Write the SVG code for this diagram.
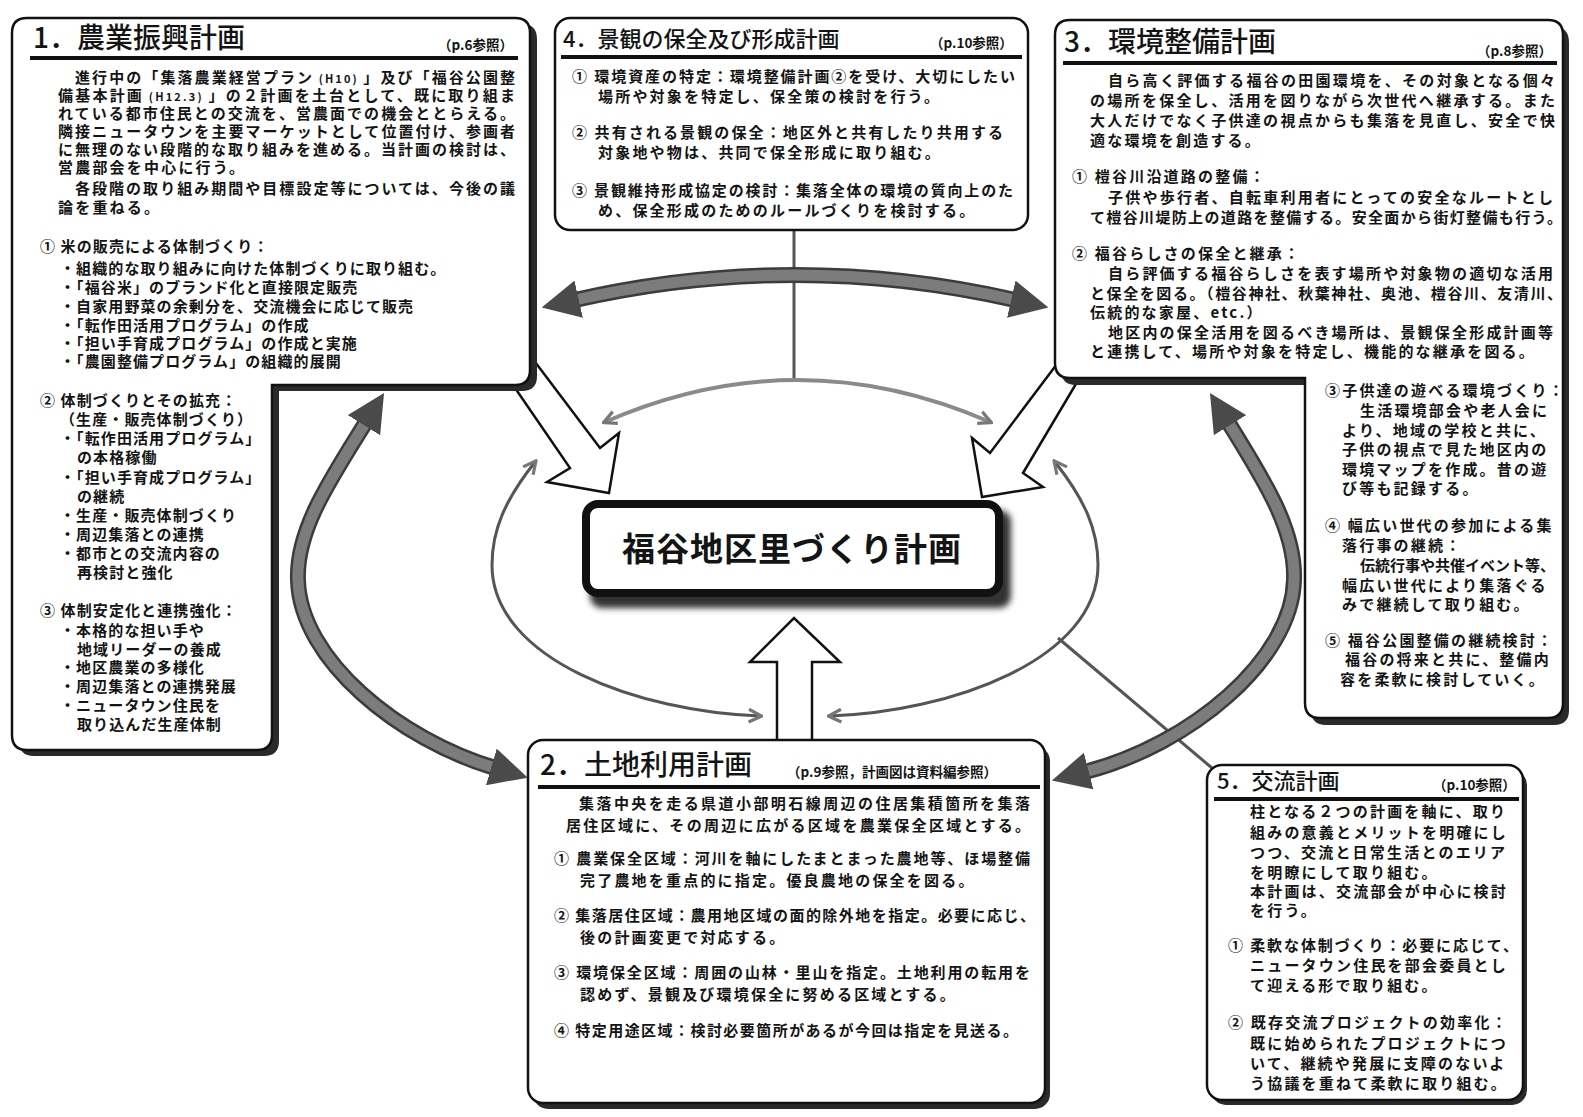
<svg xmlns="http://www.w3.org/2000/svg" width="1583" height="1117" viewBox="0 0 1583 1117">
<defs>
<style>
text { font-family: "Noto Sans CJK JP", "Noto Sans CJK SC", sans-serif; fill: #141414; }
.b { font-size: 15px; font-weight: 700; letter-spacing: 2.2px; }
.bl { font-size: 15px; font-weight: 700; letter-spacing: 1.1px; }
.j { font-size: 15px; font-weight: 700; }
.h { font-size: 28px; font-weight: 500; }
.hs { font-size: 22px; font-weight: 500; }
.ref { font-size: 13.5px; font-weight: 700; }
.sm { font-size: 11px; letter-spacing: 0; }
.c { font-size: 33px; font-weight: 700; letter-spacing: 1px; text-anchor: middle; }
.box { fill: #fff; stroke: #111; stroke-width: 2.5; }
.shadow { fill: #2a2a2a; }
.ul { stroke: #111; stroke-width: 4; }
.hollow { fill: #fff; stroke: #111; stroke-width: 2.5; stroke-linejoin: miter; }
.bigUnder { fill: none; stroke: #3c3c3c; stroke-width: 16; }
.bigOver { fill: none; stroke: #7c7c7c; stroke-width: 11; }
.thin { fill: none; stroke: #8a8a8a; stroke-width: 4; }
.thinDark { fill: none; stroke: #555; stroke-width: 3; }
</style>
<marker id="bigHead" viewBox="0 0 10 10" refX="1" refY="5" markerWidth="38" markerHeight="38" markerUnits="userSpaceOnUse" orient="auto-start-reverse">
<path d="M0,0 L10,5 L0,10 z" fill="#4a4a4a"/>
</marker>
<marker id="thinHead" viewBox="0 0 10 10" refX="8" refY="5" markerWidth="16" markerHeight="16" markerUnits="userSpaceOnUse" orient="auto-start-reverse">
<path d="M1,1 L9,5 L1,9" fill="none" stroke="#777" stroke-width="2"/>
</marker>
<filter id="blur" x="-10%" y="-10%" width="120%" height="130%"><feGaussianBlur stdDeviation="3"/></filter>
</defs>
<rect width="1583" height="1117" fill="#fff"/>

<g id="connectors">
<path class="thinDark" d="M794,230 V378" stroke="#888"/>
<path class="thin" d="M605,422 Q797,338 990,422" marker-start="url(#thinHead)" marker-end="url(#thinHead)"/>
<path class="thinDark" d="M535,462 C505,500 492,530 492,565 C492,660 640,712 760,716" marker-start="url(#thinHead)" marker-end="url(#thinHead)"/>
<path class="thinDark" d="M1055,462 C1085,500 1098,530 1098,565 C1098,660 950,712 830,716" marker-start="url(#thinHead)" marker-end="url(#thinHead)"/>
<path class="thinDark" d="M1058,638 L1212,768"/>
<path class="bigUnder" d="M575,300 Q795,250 1015,300"/>
<path class="bigOver" d="M575,300 Q795,250 1015,300" marker-start="url(#bigHead)" marker-end="url(#bigHead)"/>
<path class="bigUnder" d="M366,422 C330,480 296,530 298,580 C300,660 400,740 495,768"/>
<path class="bigOver" d="M366,422 C330,480 296,530 298,580 C300,660 400,740 495,768" marker-start="url(#bigHead)" marker-end="url(#bigHead)"/>
<path class="bigUnder" d="M1228,422 C1264,480 1296,530 1294,580 C1292,660 1190,745 1085,772"/>
<path class="bigOver" d="M1228,422 C1264,480 1296,530 1294,580 C1292,660 1190,745 1085,772" marker-start="url(#bigHead)" marker-end="url(#bigHead)"/>
<polygon class="hollow" points="520,342 600,448 619,433 609,493 547,482 570,468 502,369"/>
<polygon class="hollow" points="1078,336 990,453 972,438 982,497 1043,487 1023,473 1092,357"/>
<polygon class="hollow" points="777,746 777,662 750,662 794,618 840,662 812,662 812,746"/>
</g>

<g id="node-center">
<rect x="590" y="510" width="421" height="98" rx="12" fill="#333" filter="url(#blur)"/>
<rect x="586" y="504" width="413" height="89" rx="12" fill="#fff" stroke="#111" stroke-width="8"/>
<text class="c" x="792" y="561">福谷地区里づくり計画</text>
</g>

<g id="node-1">
<path class="shadow" transform="translate(7,6)" d="M27,18 H515 Q530,18 530,33 V370 Q530,385 515,385 H272 V735 Q272,750 257,750 H27 Q12,750 12,735 V33 Q12,18 27,18 Z"/>
<path class="box" d="M27,18 H515 Q530,18 530,33 V370 Q530,385 515,385 H272 V735 Q272,750 257,750 H27 Q12,750 12,735 V33 Q12,18 27,18 Z"/>
<text class="h" x="33" y="48">1．農業振興計画</text>
<text class="ref" x="438" y="50">（p.6参照）</text>
<line class="ul" x1="30" y1="58" x2="518" y2="58"/>
<text class="j" x="75" y="83" textLength="440" lengthAdjust="spacing">進行中の「集落農業経営プラン<tspan class="sm"> (H10) </tspan>」及び「福谷公園整</text>
<text class="j" x="58" y="101" textLength="457" lengthAdjust="spacing">備基本計画<tspan class="sm"> (H12.3) </tspan>」の２計画を土台として、既に取り組ま</text>
<text class="j" x="58" y="119" textLength="457" lengthAdjust="spacing">れている都市住民との交流を、営農面での機会ととらえる。</text>
<text class="j" x="58" y="137" textLength="457" lengthAdjust="spacing">隣接ニュータウンを主要マーケットとして位置付け、参画者</text>
<text class="j" x="58" y="155" textLength="457" lengthAdjust="spacing">に無理のない段階的な取り組みを進める。当計画の検討は、</text>
<text class="b" x="58" y="173">営農部会を中心に行う。</text>
<text class="j" x="75" y="194" textLength="440" lengthAdjust="spacing">各段階の取り組み期間や目標設定等については、今後の議</text>
<text class="b" x="58" y="213">論を重ねる。</text>

<text class="bl" x="40" y="252">① 米の販売による体制づくり：</text>
<text class="bl" x="60" y="274">・組織的な取り組みに向けた体制づくりに取り組む。</text>
<text class="bl" x="60" y="293">・「福谷米」のブランド化と直接限定販売</text>
<text class="bl" x="60" y="312">・自家用野菜の余剰分を、交流機会に応じて販売</text>
<text class="bl" x="60" y="331">・「転作田活用プログラム」の作成</text>
<text class="bl" x="60" y="349">・「担い手育成プログラム」の作成と実施</text>
<text class="bl" x="60" y="367">・「農園整備プログラム」の組織的展開</text>

<text class="bl" x="40" y="406">② 体制づくりとその拡充：</text>
<text class="bl" x="60" y="425">（生産・販売体制づくり）</text>
<text class="bl" x="60" y="444">・「転作田活用プログラム」</text>
<text class="bl" x="77" y="463">の本格稼働</text>
<text class="bl" x="60" y="483">・「担い手育成プログラム」</text>
<text class="bl" x="77" y="502">の継続</text>
<text class="bl" x="60" y="521">・生産・販売体制づくり</text>
<text class="bl" x="60" y="540">・周辺集落との連携</text>
<text class="bl" x="60" y="559">・都市との交流内容の</text>
<text class="bl" x="77" y="578">再検討と強化</text>

<text class="bl" x="40" y="616">③ 体制安定化と連携強化：</text>
<text class="bl" x="60" y="636">・本格的な担い手や</text>
<text class="bl" x="77" y="655">地域リーダーの養成</text>
<text class="bl" x="60" y="673">・地区農業の多様化</text>
<text class="bl" x="60" y="692">・周辺集落との連携発展</text>
<text class="bl" x="60" y="711">・ニュータウン住民を</text>
<text class="bl" x="77" y="730">取り込んだ生産体制</text>
</g>

<g id="node-4">
<rect class="box" x="555" y="18" width="473" height="212" rx="15"/>
<text class="hs" x="563" y="47">4．景観の保全及び形成計画</text>
<text class="ref" x="930" y="48">（p.10参照）</text>
<line class="ul" x1="561" y1="57" x2="1022" y2="57"/>
<text class="j" x="572" y="82" textLength="443" lengthAdjust="spacing">① 環境資産の特定：環境整備計画②を受け、大切にしたい</text>
<text class="b" x="598" y="102">場所や対象を特定し、保全策の検討を行う。</text>
<text class="j" x="572" y="138" textLength="431" lengthAdjust="spacing">② 共有される景観の保全：地区外と共有したり共用する</text>
<text class="b" x="598" y="158">対象地や物は、共同で保全形成に取り組む。</text>
<text class="j" x="572" y="196" textLength="441" lengthAdjust="spacing">③ 景観維持形成協定の検討：集落全体の環境の質向上のた</text>
<text class="b" x="598" y="216">め、保全形成のためのルールづくりを検討する。</text>
</g>

<g id="node-3">
<path class="shadow" transform="translate(6,7)" d="M1070,20 H1548 Q1563,20 1563,35 V703 Q1563,718 1548,718 H1320 Q1305,718 1305,703 V378 H1070 Q1055,378 1055,363 V35 Q1055,20 1070,20 Z"/>
<path class="box" d="M1070,20 H1548 Q1563,20 1563,35 V703 Q1563,718 1548,718 H1320 Q1305,718 1305,703 V378 H1070 Q1055,378 1055,363 V35 Q1055,20 1070,20 Z"/>
<text class="h" x="1064" y="52">3．環境整備計画</text>
<text class="ref" x="1477" y="56">（p.8参照）</text>
<line class="ul" x1="1063" y1="63" x2="1557" y2="63"/>
<text class="j" x="1108" y="86" textLength="447" lengthAdjust="spacing">自ら高く評価する福谷の田園環境を、その対象となる個々</text>
<text class="j" x="1090" y="106" textLength="465" lengthAdjust="spacing">の場所を保全し、活用を図りながら次世代へ継承する。また</text>
<text class="j" x="1090" y="126" textLength="465" lengthAdjust="spacing">大人だけでなく子供達の視点からも集落を見直し、安全で快</text>
<text class="b" x="1090" y="146">適な環境を創造する。</text>
<text class="b" x="1072" y="182">① 榿谷川沿道路の整備：</text>
<text class="j" x="1108" y="203" textLength="445" lengthAdjust="spacing">子供や歩行者、自転車利用者にとっての安全なルートとし</text>
<text class="j" x="1090" y="223" textLength="472" lengthAdjust="spacing">て榿谷川堤防上の道路を整備する。安全面から街灯整備も行う。</text>
<text class="b" x="1072" y="259">② 福谷らしさの保全と継承：</text>
<text class="j" x="1108" y="279" textLength="445" lengthAdjust="spacing">自ら評価する福谷らしさを表す場所や対象物の適切な活用</text>
<text class="j" x="1090" y="299" textLength="472" lengthAdjust="spacing">と保全を図る。（榿谷神社、秋葉神社、奥池、榿谷川、友清川、</text>
<text class="b" x="1090" y="318">伝統的な家屋、etc.）</text>
<text class="j" x="1108" y="338" textLength="445" lengthAdjust="spacing">地区内の保全活用を図るべき場所は、景観保全形成計画等</text>
<text class="b" x="1090" y="357">と連携して、場所や対象を特定し、機能的な継承を図る。</text>

<text class="b" x="1325" y="396">③子供達の遊べる環境づくり：</text>
<text class="b" x="1360" y="416">生活環境部会や老人会に</text>
<text class="b" x="1342" y="436">より、地域の学校と共に、</text>
<text class="b" x="1342" y="455">子供の視点で見た地区内の</text>
<text class="b" x="1342" y="475">環境マップを作成。昔の遊</text>
<text class="b" x="1342" y="494">び等も記録する。</text>
<text class="b" x="1325" y="531">④ 幅広い世代の参加による集</text>
<text class="b" x="1342" y="551">落行事の継続：</text>
<text class="j" x="1360" y="571" textLength="195" lengthAdjust="spacing">伝統行事や共催イベント等、</text>
<text class="b" x="1342" y="591">幅広い世代により集落ぐる</text>
<text class="b" x="1342" y="610">みで継続して取り組む。</text>
<text class="b" x="1325" y="646">⑤ 福谷公園整備の継続検討：</text>
<text class="b" x="1345" y="665">福谷の将来と共に、整備内</text>
<text class="b" x="1340" y="685">容を柔軟に検討していく。</text>
</g>

<g id="node-2">
<rect class="shadow" x="533" y="746" width="517" height="363" rx="15"/>
<rect class="box" x="528" y="740" width="517" height="363" rx="15"/>
<text class="h" x="540" y="775">2．土地利用計画</text>
<text class="ref" x="787" y="777">（p.9参照，計画図は資料編参照）</text>
<line class="ul" x1="538" y1="787" x2="1040" y2="787"/>
<text class="j" x="579" y="809" textLength="451" lengthAdjust="spacing">集落中央を走る県道小部明石線周辺の住居集積箇所を集落</text>
<text class="j" x="566" y="831" textLength="464" lengthAdjust="spacing">居住区域に、その周辺に広がる区域を農業保全区域とする。</text>
<text class="j" x="554" y="864" textLength="476" lengthAdjust="spacing">① 農業保全区域：河川を軸にしたまとまった農地等、ほ場整備</text>
<text class="b" x="580" y="886">完了農地を重点的に指定。優良農地の保全を図る。</text>
<text class="j" x="554" y="921" textLength="481" lengthAdjust="spacing">② 集落居住区域：農用地区域の面的除外地を指定。必要に応じ、</text>
<text class="b" x="580" y="943">後の計画変更で対応する。</text>
<text class="j" x="554" y="978" textLength="476" lengthAdjust="spacing">③ 環境保全区域：周囲の山林・里山を指定。土地利用の転用を</text>
<text class="b" x="580" y="1000">認めず、景観及び環境保全に努める区域とする。</text>
<text class="j" x="554" y="1036" textLength="464" lengthAdjust="spacing">④ 特定用途区域：検討必要箇所があるが今回は指定を見送る。</text>
</g>

<g id="node-5">
<rect class="shadow" x="1211" y="770" width="316" height="335" rx="15"/>
<rect class="box" x="1207" y="765" width="316" height="335" rx="15"/>
<text class="hs" x="1217" y="789">5．交流計画</text>
<text class="ref" x="1433" y="790">（p.10参照）</text>
<line class="ul" x1="1214" y1="799" x2="1519" y2="799"/>
<text class="b" x="1250" y="817">柱となる２つの計画を軸に、取り</text>
<text class="b" x="1250" y="838">組みの意義とメリットを明確にし</text>
<text class="b" x="1250" y="858">つつ、交流と日常生活とのエリア</text>
<text class="b" x="1250" y="878">を明瞭にして取り組む。</text>
<text class="b" x="1250" y="897">本計画は、交流部会が中心に検討</text>
<text class="b" x="1250" y="916">を行う。</text>
<text class="j" x="1228" y="951" textLength="290" lengthAdjust="spacing">① 柔軟な体制づくり：必要に応じて、</text>
<text class="b" x="1250" y="971">ニュータウン住民を部会委員とし</text>
<text class="b" x="1250" y="991">て迎える形で取り組む。</text>
<text class="b" x="1228" y="1028">② 既存交流プロジェクトの効率化：</text>
<text class="b" x="1250" y="1049">既に始められたプロジェクトにつ</text>
<text class="b" x="1250" y="1069">いて、継続や発展に支障のないよ</text>
<text class="b" x="1250" y="1089">う協議を重ねて柔軟に取り組む。</text>
</g>
</svg>
